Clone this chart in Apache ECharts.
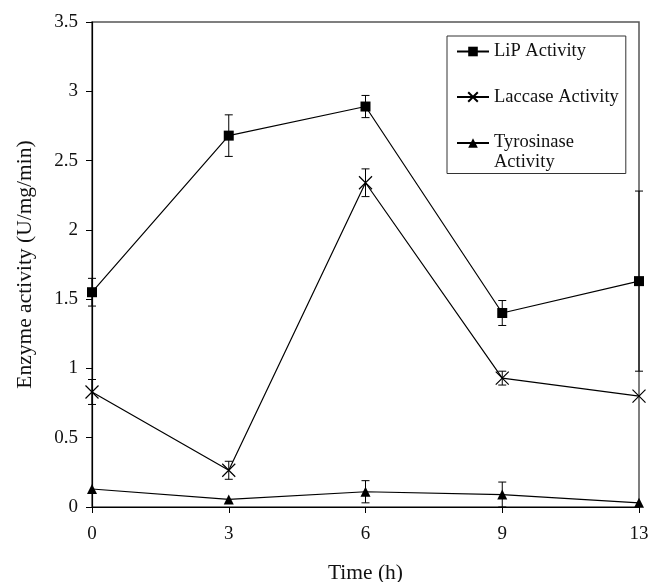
<!DOCTYPE html>
<html>
<head>
<meta charset="utf-8">
<script src="https://cdn.jsdelivr.net/npm/echarts@6/dist/echarts.min.js"></script>
<style>html,body{margin:0;padding:0;background:#fff;}#c{width:648px;height:582px;}</style>
</head>
<body>
<div id="c"></div>
<script>
var categories = ['0', '3', '6', '9', '13'];
var lipValues = [1.55, 2.68, 2.89, 1.40, 1.63];
var lipErrors = [0.10, 0.15, 0.08, 0.09, 0.65];
var laccaseValues = [0.83, 0.265, 2.34, 0.93, 0.80];
var laccaseErrors = [0.09, 0.065, 0.10, 0.05, 0];
var tyrValues = [0.13, 0.055, 0.11, 0.09, 0.03];
var tyrErrors = [0, 0, 0.08, 0.09, 0];
var seriesNames = ['LiP Activity', 'Laccase Activity', 'Tyrosinase Activity'];

var FONT = 'Liberation Serif';

function errData(vals, errs) {
  var out = [];
  for (var i = 0; i < vals.length; i++) {
    if (errs[i] > 0) out.push([i, vals[i] - errs[i], vals[i] + errs[i]]);
  }
  return out;
}
function errSeries(vals, errs) {
  return {
    type: 'custom',
    silent: true,
    z: 1,
    data: errData(vals, errs),
    renderItem: function (params, api) {
      var x = api.value(0);
      var lo = api.coord([x, api.value(1)]);
      var hi = api.coord([x, api.value(2)]);
      var w = 4;
      var st = {stroke: '#000', lineWidth: 1};
      return {
        type: 'group',
        children: [
          {type: 'line', shape: {x1: lo[0], y1: lo[1], x2: hi[0], y2: hi[1]}, style: st},
          {type: 'line', shape: {x1: lo[0] - w, y1: lo[1], x2: lo[0] + w, y2: lo[1]}, style: st},
          {type: 'line', shape: {x1: hi[0] - w, y1: hi[1], x2: hi[0] + w, y2: hi[1]}, style: st}
        ]
      };
    }
  };
}

var lineStyle = {color: '#000', width: 1.2};
var chart = echarts.init(document.getElementById('c'), null, {renderer: 'canvas'});
chart.setOption({
  animation: false,
  backgroundColor: '#fff',
  grid: {left: 92, right: 9, top: 22, bottom: 75, show: true, borderColor: '#555', borderWidth: 1.5,
    containLabel: false, outerBoundsMode: 'none'},
  legend: {
    orient: 'vertical',
    left: 447, top: 36,
    padding: [5, 7, 1.5, 9],
    itemGap: 24.5,
    itemWidth: 32, itemHeight: 12,
    borderColor: '#333', borderWidth: 1,
    backgroundColor: '#fff',
    textStyle: {
      fontFamily: FONT, fontSize: 18.5, color: '#111', lineHeight: 21,
      rich: {
        a: {fontFamily: FONT, fontSize: 18.5, color: '#111', lineHeight: 21, verticalAlign: 'middle'},
        b: {fontFamily: FONT, fontSize: 18.5, color: '#111', lineHeight: 1, verticalAlign: 'top'}
      }
    },
    data: seriesNames,
    formatter: function (n) {
      if (n === 'Tyrosinase Activity') return '{a|Tyrosinase}\n{b|Activity}';
      return n;
    }
  },
  xAxis: {
    type: 'category',
    data: categories,
    boundaryGap: false,
    name: 'Time (h)',
    nameLocation: 'middle',
    nameGap: 55,
    nameTextStyle: {fontFamily: FONT, fontSize: 21.5, color: '#111'},
    axisLine: {lineStyle: {color: '#000', width: 1.2}},
    axisTick: {inside: false, length: 6, lineStyle: {color: '#000'}},
    axisLabel: {fontFamily: FONT, fontSize: 19, color: '#111', margin: 18},
    splitLine: {show: false}
  },
  yAxis: {
    type: 'value',
    min: 0, max: 3.5, interval: 0.5,
    name: 'Enzyme activity (U/mg/min)',
    nameLocation: 'middle',
    nameGap: 56,
    nameTextStyle: {fontFamily: FONT, fontSize: 21.5, color: '#111'},
    axisLine: {show: true, lineStyle: {color: '#000', width: 1.2}},
    axisTick: {show: true, length: 6, lineStyle: {color: '#000'}},
    axisLabel: {fontFamily: FONT, fontSize: 19, color: '#111', margin: 14},
    splitLine: {show: false}
  },
  series: [
    {name: seriesNames[0], type: 'line', data: lipValues, symbol: 'rect', symbolSize: 10,
      lineStyle: lineStyle, itemStyle: {color: '#000'}, z: 3},
    {name: seriesNames[1], type: 'line', data: laccaseValues,
      symbol: 'path://M0,0L20,20M20,0L0,20', symbolSize: 13,
      lineStyle: lineStyle, itemStyle: {color: '#000', borderColor: '#000', borderWidth: 1.2}, z: 3},
    {name: seriesNames[2], type: 'line', data: tyrValues, symbol: 'triangle', symbolSize: 10,
      lineStyle: lineStyle, itemStyle: {color: '#000'}, z: 3},
    errSeries(lipValues, lipErrors),
    errSeries(laccaseValues, laccaseErrors),
    errSeries(tyrValues, tyrErrors)
  ]
});
</script>
</body>
</html>
